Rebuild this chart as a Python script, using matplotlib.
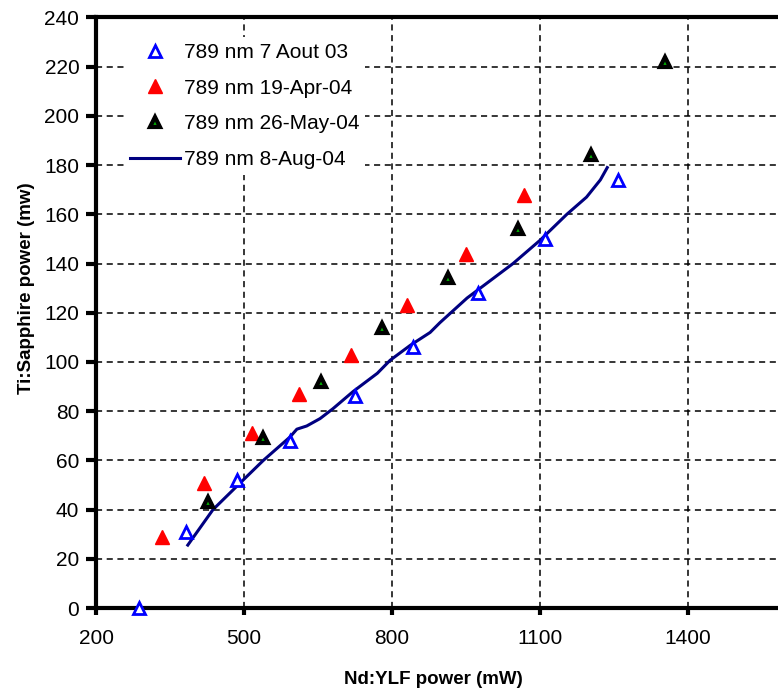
import numpy as np
import matplotlib.pyplot as plt
from matplotlib.lines import Line2D

plt.rcParams['font.family'] = ['Liberation Sans', 'DejaVu Sans']

# Nd:YLF pump power (mW) vs Ti:Sapphire output power (mW)
aout03_x = [287, 382, 486, 593, 725, 843, 975, 1110, 1258]
aout03_y = [0, 31, 52, 68, 86, 106, 128, 150, 174]

apr04_x = [334, 419, 516, 612, 717, 830, 950, 1068]
apr04_y = [29, 51, 71, 87, 103, 123, 144, 168]

may04_x = [427, 539, 656, 780, 914, 1055, 1203, 1353]
may04_y = [43, 69, 92, 114, 134, 154, 184, 222]

aug04_x = [386, 437, 498, 539, 593, 607, 627, 654, 680, 721, 770, 796,
           837, 877, 897, 952, 1045, 1100, 1154, 1194, 1222, 1236]
aug04_y = [25.6, 40, 52, 60, 69.5, 72.7, 74, 77, 81, 88, 95.4, 100.7,
           106.8, 112, 116, 126, 140, 149.5, 160, 167, 174, 179]

labels = ["789 nm 7 Aout 03", "789 nm 19-Apr-04", "789 nm 26-May-04", "789 nm 8-Aug-04"]

blue_style = dict(ls="none", marker="^", ms=8, mfc="white", mec="blue", mew=2)
red_style = dict(ls="none", marker="^", ms=9.5, mfc="red", mec="red", mew=1)
black_style = dict(ls="none", marker="^", ms=7.5, mfc="#00b000", mec="black", mew=3)

fig = plt.figure(figsize=(7.78, 6.91), dpi=100)
ax = fig.add_axes([0.1234, 0.120, 0.8766, 0.8547])

ax.plot(aug04_x, aug04_y, color="#000080", lw=2.2, zorder=3)
ax.plot(aout03_x, aout03_y, zorder=4, clip_on=False, **blue_style)
ax.plot(apr04_x, apr04_y, zorder=4, **red_style)
ax.plot(may04_x, may04_y, zorder=4, **black_style)

ax.set_xlim(200, 1582)
ax.set_ylim(0, 240)
ax.set_xticks([200, 500, 800, 1100, 1400])
ax.set_yticks(np.arange(0, 241, 20))
ax.grid(True, color="black", ls=(0, (4, 3)), lw=1.1)
ax.set_axisbelow(True)

for side in ["left", "bottom", "top"]:
    ax.spines[side].set_linewidth(3)
ax.spines["right"].set_visible(False)
ax.tick_params(axis="y", direction="out", length=7, width=3, labelsize=15, pad=5)
ax.tick_params(axis="x", direction="out", length=5, width=3, labelsize=15, pad=10)

ax.set_xlabel("Nd:YLF power (mW)", fontsize=13.5, fontweight="bold")
ax.set_ylabel("Ti:Sapphire power (mw)", fontsize=13.5, fontweight="bold")
ax.xaxis.set_label_coords(0.494, -0.106)
ax.yaxis.set_label_coords(-0.090, 0.542)

handles = [
    Line2D([], [], **blue_style),
    Line2D([], [], **red_style),
    Line2D([], [], **black_style),
    Line2D([], [], color="#000080", lw=2.2),
]
leg = ax.legend(handles, labels, loc="upper left", bbox_to_anchor=(0.026, 0.985),
                frameon=True, fancybox=False, facecolor="white", edgecolor="none",
                framealpha=1, fontsize=15, handlelength=2.4, handletextpad=0.15,
                labelspacing=0.8, borderpad=0.3)
leg.set_zorder(5)

fig.savefig("out.png", dpi=100)
